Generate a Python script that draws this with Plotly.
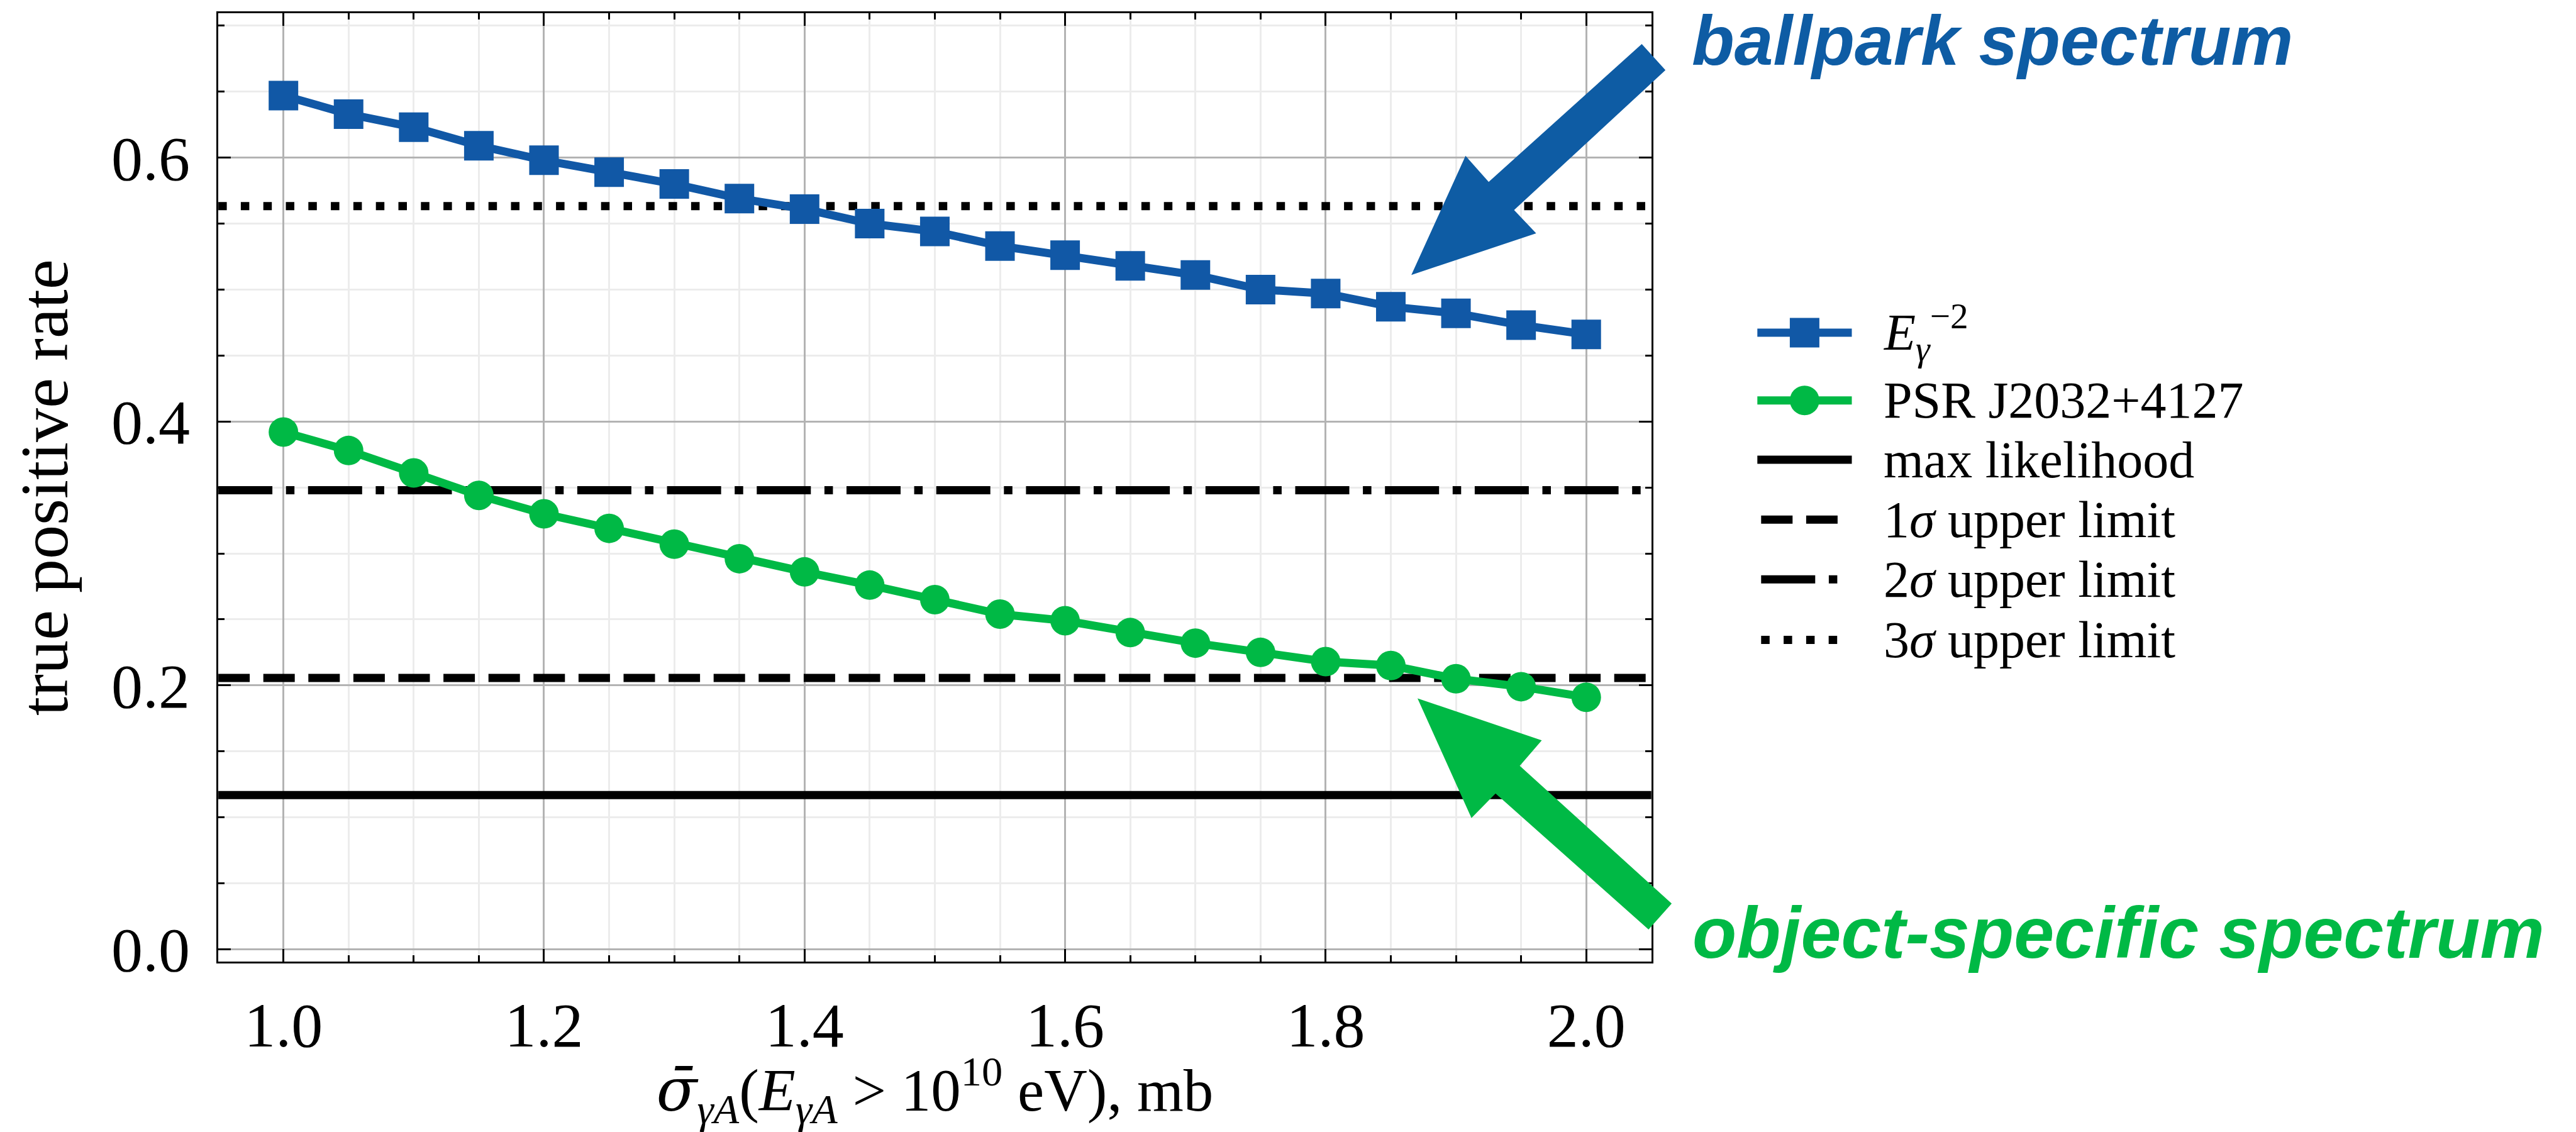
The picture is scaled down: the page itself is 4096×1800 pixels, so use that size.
import plotly.graph_objects as go

# ---------------- data ----------------
sigma_mb = [1.00, 1.05, 1.10, 1.15, 1.20, 1.25, 1.30, 1.35, 1.40, 1.45, 1.50,
            1.55, 1.60, 1.65, 1.70, 1.75, 1.80, 1.85, 1.90, 1.95, 2.00]
tpr_e2 = [0.647, 0.633, 0.623, 0.609, 0.598, 0.589, 0.580, 0.569, 0.561, 0.550, 0.544,
          0.533, 0.526, 0.518, 0.511, 0.500, 0.497, 0.487, 0.482, 0.473, 0.466]
tpr_psr = [0.392, 0.378, 0.361, 0.344, 0.330, 0.319, 0.307, 0.296, 0.286, 0.276, 0.265,
           0.254, 0.249, 0.240, 0.232, 0.225, 0.218, 0.215, 0.205, 0.199, 0.191]

limit_names = ["max likelihood", "1<i>σ</i> upper limit", "2<i>σ</i> upper limit", "3<i>σ</i> upper limit"]
limit_values = [0.1168, 0.2056, 0.3479, 0.5632]

x_range = [0.95, 2.05]
y_range = [-0.0095, 0.7095]
x_ticks = [1.0, 1.2, 1.4, 1.6, 1.8, 2.0]
y_ticks = [0.0, 0.2, 0.4, 0.6]

# ---------------- style ----------------
W, H = 4096, 1800
BLUE = "#1158a6"
ARROW_BLUE = "#0e5ca4"
GREEN = "#00b945"
SERIF = "Liberation Serif, Times New Roman, serif"
SANS = "Liberation Sans, Arial, Helvetica, sans-serif"
LW = 13
DASHES = ["solid", "50px,21.6px", "86px,21.6px,13.5px,21.6px", "13.5px,22.3px"]

# plot area in pixels
L, R, T, B = 347.1, 2625.8, 20.9, 1529.3

fig = go.Figure()

for v, d in zip(limit_values, DASHES):
    fig.add_trace(go.Scatter(x=x_range, y=[v, v], mode="lines",
                             line=dict(color="black", width=LW, dash=d),
                             showlegend=False, hoverinfo="skip"))

fig.add_trace(go.Scatter(x=sigma_mb, y=tpr_e2, mode="lines+markers",
                         line=dict(color=BLUE, width=LW),
                         marker=dict(symbol="square", size=47, color=BLUE),
                         showlegend=False))
fig.add_trace(go.Scatter(x=sigma_mb, y=tpr_psr, mode="lines+markers",
                         line=dict(color=GREEN, width=LW),
                         marker=dict(symbol="circle", size=47, color=GREEN),
                         showlegend=False))

# ---------------- custom legend (pixel-space overlay axes) ----------------
leg_rows = [528.9, 636.7, 731.0, 826.2, 921.3, 1017.4]
leg_x0, leg_x1, leg_text_x = 2794.3, 2944.5, 2993
leg_labels = ["<i>E</i><sub><i>γ</i></sub><sup>−2</sup>", "PSR J2032+4127"] + limit_names
leg_styles = [(BLUE, "solid", "square"), (GREEN, "solid", "circle")] + \
             [("black", d, None) for d in DASHES]
for yrow, (col, d, sym) in zip(leg_rows, leg_styles):
    pad = 0 if d == "solid" else 6
    fig.add_trace(go.Scatter(x=[leg_x0 + pad, leg_x1 - pad], y=[yrow, yrow], mode="lines",
                             line=dict(color=col, width=LW, dash=d),
                             xaxis="x2", yaxis="y2", showlegend=False, hoverinfo="skip"))
    if sym:
        fig.add_trace(go.Scatter(x=[(leg_x0 + leg_x1) / 2], y=[yrow], mode="markers",
                                 marker=dict(symbol=sym, size=47, color=col),
                                 xaxis="x2", yaxis="y2", showlegend=False, hoverinfo="skip"))

annotations = []
for yrow, lab in zip(leg_rows, leg_labels):
    annotations.append(dict(x=leg_text_x, y=yrow, xref="x2", yref="y2", text=lab,
                            showarrow=False, xanchor="left", yanchor="middle",
                            font=dict(family=SERIF, size=82, color="black")))

annotations.append(dict(x=2689 / W, y=1 - 2 / H, xref="paper", yref="paper",
                        text="<b><i>ballpark spectrum</i></b>", showarrow=False,
                        xanchor="left", yanchor="top", borderpad=0,
                        font=dict(family=SANS, size=111, color=ARROW_BLUE)))
annotations.append(dict(x=2689 / W, y=1 - 1483 / H, xref="paper", yref="paper",
                        text="<b><i>object-specific spectrum</i></b>", showarrow=False,
                        xanchor="left", yanchor="middle",
                        font=dict(family=SANS, size=115, color=GREEN)))


def path(points):
    s = ""
    for i, (px, py) in enumerate(points):
        s += ("M" if i == 0 else "L") + f"{px / W:.5f},{1 - py / H:.5f} "
    return s + "Z"


blue_arrow = [(2610.5, 70.0), (2648.2, 111.4), (2407.5, 334.1), (2442.6, 370.9),
              (2244.1, 437.3), (2330.3, 247.8), (2367.1, 289.2)]
green_arrow = [(2254.0, 1110.4), (2451.5, 1177.3), (2416.5, 1217.7), (2658.1, 1436.8),
               (2621.3, 1478.1), (2378.0, 1261.7), (2339.7, 1300.8)]
shapes = [
    dict(type="path", path=path(blue_arrow), xref="paper", yref="paper",
         fillcolor=ARROW_BLUE, line=dict(width=0), layer="above"),
    dict(type="path", path=path(green_arrow), xref="paper", yref="paper",
         fillcolor=GREEN, line=dict(width=0), layer="above"),
]

axis_common = dict(
    showline=True, linecolor="black", linewidth=3, mirror="allticks",
    ticks="inside", ticklen=20, tickwidth=2.7, tickcolor="black",
    showgrid=True, gridcolor="#b3b3b3", gridwidth=2.5, zeroline=False,
    tickfont=dict(family=SERIF, size=100, color="black"),
    tickformat=".1f", automargin=False,
    minor=dict(ticks="inside", ticklen=10, tickwidth=2.5, tickcolor="black",
               dtick=0.05, showgrid=True, gridcolor="#ececec", gridwidth=2.5),
)

x_title = ('<span style="font-family:DejaVu Serif"><i>σ̄</i></span>'
           '<sub><i>γA</i></sub>(<i>E</i><sub><i>γA</i></sub> &gt; 10<sup>10</sup> eV), mb')

fig.update_layout(
    width=W, height=H,
    margin=dict(l=0, r=0, t=0, b=0),
    paper_bgcolor="white", plot_bgcolor="rgba(0,0,0,0)",
    showlegend=False,
    xaxis=dict(axis_common, domain=[L / W, R / W], range=x_range, tickvals=x_ticks,
               ticklabelstandoff=12,
               title=dict(text=x_title,
                          font=dict(family=SERIF, size=95, color="black"), standoff=70)),
    yaxis=dict(axis_common, domain=[1 - B / H, 1 - T / H], range=y_range, tickvals=y_ticks,
               ticklabelstandoff=22,
               title=dict(text="true positive rate",
                          font=dict(family=SERIF, size=108, color="black"), standoff=34)),
    xaxis2=dict(domain=[0, 1], range=[0, W], visible=False, anchor="y2", fixedrange=True),
    yaxis2=dict(domain=[0, 1], range=[H, 0], visible=False, anchor="x2", fixedrange=True),
    annotations=annotations,
    shapes=shapes,
)

fig.write_html("out.html")
